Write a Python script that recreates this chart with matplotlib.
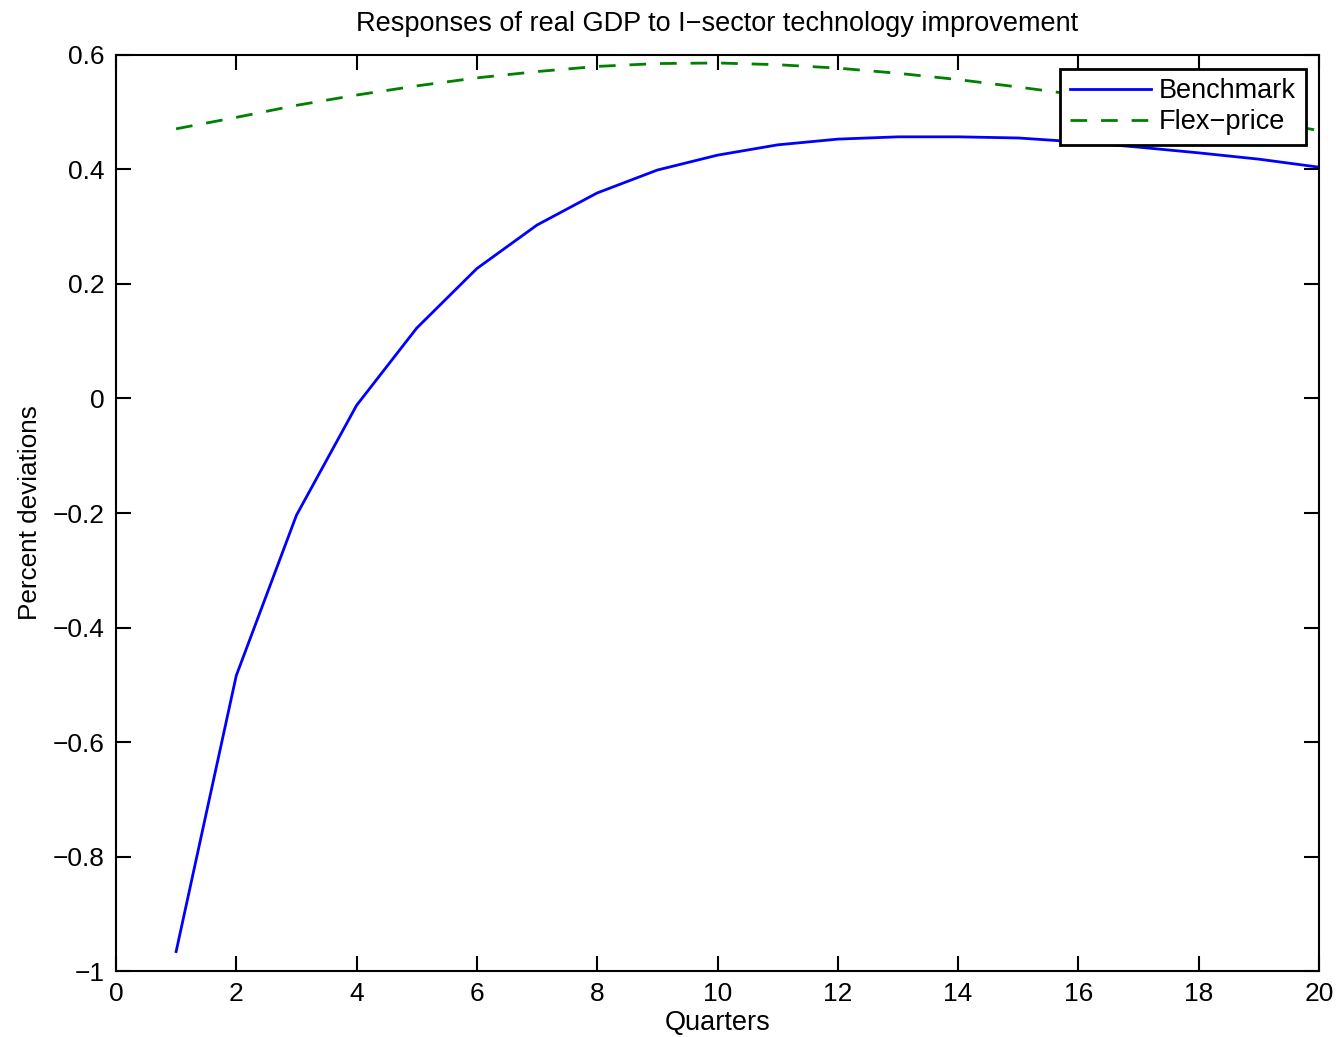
import numpy as np
import matplotlib.pyplot as plt

plt.rcParams['font.family'] = ['Liberation Sans', 'DejaVu Sans']

quarters = np.arange(1, 21)
benchmark = [-0.966, -0.484, -0.204, -0.012, 0.123, 0.227, 0.303, 0.359, 0.399, 0.425,
             0.443, 0.453, 0.457, 0.457, 0.455, 0.448, 0.439, 0.429, 0.418, 0.404]
flex_price = [0.471, 0.491, 0.512, 0.530, 0.546, 0.560, 0.571, 0.580, 0.585, 0.586,
              0.583, 0.577, 0.568, 0.557, 0.544, 0.530, 0.516, 0.502, 0.486, 0.468]

xticks = np.arange(0, 21, 2)
yticks = [-1, -0.8, -0.6, -0.4, -0.2, 0, 0.2, 0.4, 0.6]
ytick_labels = ['\u22121', '\u22120.8', '\u22120.6', '\u22120.4', '\u22120.2', '0', '0.2', '0.4', '0.6']

fig = plt.figure(figsize=(13.39, 10.37), dpi=100)
ax = fig.add_axes([0.0866, 0.0636, 0.8985, 0.8834])

ax.plot(quarters, benchmark, color='blue', lw=2, label='Benchmark')
ax.plot(quarters, flex_price, color='green', lw=2, linestyle=(0, (6, 5)), label='Flex\u2212price')

ax.set_xlim(0, 20)
ax.set_ylim(-1, 0.6)
ax.set_xticks(xticks)
ax.set_yticks(yticks)
ax.set_yticklabels(ytick_labels)
ax.tick_params(direction='in', length=11, width=1.5, labelsize=19, top=True, right=True, pad=8)
for s in ax.spines.values():
    s.set_linewidth(1.5)

ax.set_title('Responses of real GDP to I\u2212sector technology improvement', fontsize=19.5, pad=17)
ax.set_xlabel('Quarters', fontsize=19.5, labelpad=3)
ax.set_ylabel('Percent deviations', fontsize=18.8, labelpad=8)

leg = ax.legend(loc='upper right', fontsize=19.5, handlelength=3.0, fancybox=False,
                framealpha=1, borderaxespad=0.5, labelspacing=0.2, handletextpad=0.3,
                borderpad=0.35)
leg.get_frame().set_edgecolor('black')
leg.get_frame().set_linewidth(2)

fig.savefig('out.png', dpi=100)
